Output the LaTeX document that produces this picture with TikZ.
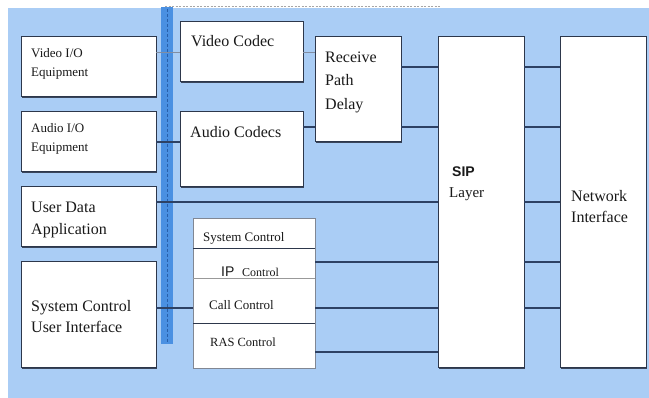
\documentclass[tikz,border=0pt]{standalone}
\usepackage{fontspec}
\setmainfont{Liberation Serif}
\newfontfamily\sipsans{Liberation Sans}
\usetikzlibrary{shadows}
\definecolor{bgblue}{RGB}{170,205,245}
\definecolor{barblue}{RGB}{74,144,226}
\definecolor{bardot}{RGB}{40,95,170}
\definecolor{boxline}{RGB}{45,55,75}
\definecolor{conn}{RGB}{45,65,100}
\definecolor{txt}{RGB}{25,25,25}
\tikzset{
  blk/.style={draw=boxline, fill=white, line width=1pt, inner sep=0pt, outer sep=0pt,
    drop shadow={shadow xshift=0.9pt, shadow yshift=-0.9pt, fill=boxline, opacity=0.9}},
  wire/.style={draw=conn, line width=1.4pt},
  thinwire/.style={draw=conn!60, line width=0.7pt},
  lbl/.style={anchor=base west, inner sep=0pt, text=txt, font=\rmfamily\fontsize{16}{19}\selectfont},
  lblsmall/.style={anchor=base west, inner sep=0pt, text=txt, font=\rmfamily\fontsize{13}{15}\selectfont},
  lblstack/.style={anchor=base west, inner sep=0pt, text=txt, font=\rmfamily\fontsize{13}{15}\selectfont},
}
\begin{document}
\begin{tikzpicture}[x=1pt,y=-1pt]
\useasboundingbox (0,0) rectangle (649,398);
\fill[white] (0,0) rectangle (649,398);
\fill[bgblue] (8,8) rectangle (649,398);
% top dashed line
\draw[gray!70, line width=0.6pt, dash pattern=on 2pt off 1.5pt] (165,6) -- (440,6);
% blue bar
\fill[barblue] (161,7) rectangle (173,344);
\draw[bardot, line width=0.8pt, dash pattern=on 3pt off 2pt] (167.5,9) -- (167.5,342);

% boxes
\node[blk, minimum width=135pt, minimum height=60pt] (vio) at (88.5,67) {};
\node[blk, minimum width=135pt, minimum height=60pt] (aio) at (88.5,142) {};
\node[blk, minimum width=135pt, minimum height=60pt] (uda) at (88.5,217) {};
\node[blk, minimum width=135pt, minimum height=106pt] (scui) at (88.5,315) {};
\node[blk, minimum width=123pt, minimum height=60pt] (vcod) at (241.5,52) {};
\node[blk, minimum width=123pt, minimum height=75pt] (acod) at (241.5,149.5) {};
\node[blk, minimum width=86pt, minimum height=105pt] (rpd) at (358,89.5) {};
\node[blk, minimum width=86pt, minimum height=331pt] (sip) at (481,202.5) {};
\node[blk, minimum width=86pt, minimum height=331pt] (ni) at (603,202.5) {};
\node[blk, draw=boxline!60, line width=0.8pt, drop shadow={shadow xshift=0.6pt, shadow yshift=-0.6pt, fill=gray!70}, minimum width=122pt, minimum height=150pt] (stk) at (254,293) {};

% levels
\coordinate (L67) at (0,67);
\coordinate (L127) at (0,127);
\coordinate (L202) at (0,202);
\coordinate (L248) at (0,248);
\coordinate (L262) at (0,262);
\coordinate (L278) at (0,278);
\coordinate (L308) at (0,308);
\coordinate (L323) at (0,323);
\coordinate (L352) at (0,352);

% stack dividers
\draw[boxline, line width=0.9pt] (stk.west |- L248) -- (stk.east |- L248);
\draw[gray!80, line width=0.5pt] (stk.west |- L278) -- (stk.east |- L278);
\draw[boxline, line width=0.9pt] (stk.west |- L323) -- (stk.east |- L323);

% connectors
\draw[thinwire] (vio.east |- vcod.west) -- (vcod.west);
\draw[thinwire] (vcod.east) -- (vcod.east -| rpd.west);
\draw[wire] (aio.east) -- (aio.east -| acod.west);
\draw[wire] (acod.east |- L127) -- (rpd.west |- L127);
\draw[wire] (rpd.east |- L67) -- (sip.west |- L67);
\draw[wire] (rpd.east |- L127) -- (sip.west |- L127);
\draw[wire] (sip.east |- L67) -- (ni.west |- L67);
\draw[wire] (sip.east |- L127) -- (ni.west |- L127);
\draw[wire] (sip.east |- L202) -- (ni.west |- L202);
\draw[wire] (sip.east |- L262) -- (ni.west |- L262);
\draw[wire] (sip.east |- L308) -- (ni.west |- L308);
\draw[wire] (uda.east |- L202) -- (sip.west |- L202);
\draw[wire] (stk.east |- L262) -- (sip.west |- L262);
\draw[wire] (stk.east |- L308) -- (sip.west |- L308);
\draw[wire] (stk.east |- L352) -- (sip.west |- L352);
\draw[wire] (scui.east |- L308) -- (stk.west |- L308);

% texts
\node[lblsmall] (t1a) at (31,58) {Video I/O};
\node[lblsmall] (t1b) at (31,77) {Equipment};
\node[lblsmall] (t2a) at (31,133) {Audio I/O};
\node[lblsmall] (t2b) at (31,152) {Equipment};
\node[lbl] (t3a) at (31,213) {User Data};
\node[lbl] (t3b) at (31,235) {Application};
\node[lbl] (t4a) at (31,312) {System Control};
\node[lbl] (t4b) at (31,333) {User Interface};
\node[lbl] (t5) at (191,47) {Video Codec};
\node[lbl] (t6) at (190,138) {Audio Codecs};
\node[lbl] (t7a) at (325,63) {Receive};
\node[lbl] (t7b) at (325,86) {Path};
\node[lbl] (t7c) at (325,110) {Delay};
\node[anchor=base west, inner sep=0pt, text=txt, font=\sipsans\bfseries\fontsize{14}{16}\selectfont] (t8a) at (452,177) {SIP};
\node[lbl, font=\rmfamily\fontsize{15}{18}\selectfont] (t8b) at (449,198) {Layer};
\node[lbl] (t9a) at (571,202) {Network};
\node[lbl] (t9b) at (571,223) {Interface};
\node[lblstack] (s1) at (203,242) {System Control};
\node[anchor=base west, inner sep=0pt, text=txt, font=\sipsans\fontsize{14}{16}\selectfont] (s2a) at (221,277) {IP};
\node[lblstack, font=\rmfamily\fontsize{12}{14}\selectfont] (s2b) at (242,277) {Control};
\node[lblstack] (s3) at (209,310) {Call Control};
\node[lblstack, font=\rmfamily\fontsize{12.5}{14}\selectfont] (s4) at (210,347) {RAS Control};
\end{tikzpicture}
\end{document}
